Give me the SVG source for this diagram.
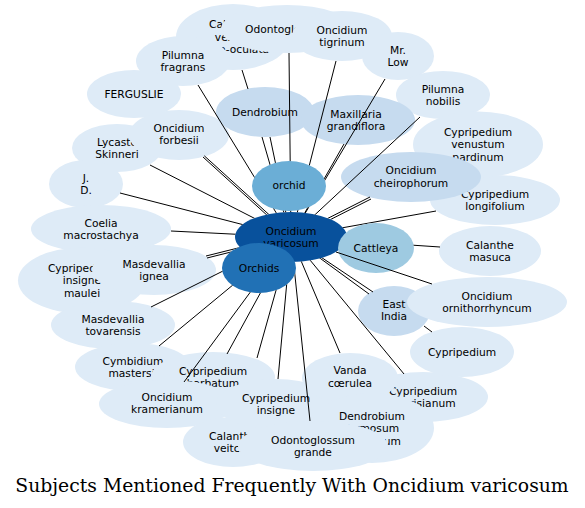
<svg xmlns="http://www.w3.org/2000/svg" width="585" height="508" viewBox="0 0 585 508">
<style>
.l{fill:#deebf7}.m{fill:#c6dbef}.c3{fill:#9ecae1}.c4{fill:#6baed6}.c5{fill:#2171b5}.c6{fill:#08519c}
text{font-family:"DejaVu Sans","Liberation Sans",sans-serif;font-size:10.7px;fill:#000;text-anchor:middle}
.e line{stroke:#000;stroke-width:1}
.title{font-family:"DejaVu Serif","Liberation Serif",serif;font-size:18.8px}
</style>
<defs>
<mask id="hub" maskUnits="userSpaceOnUse" x="0" y="0" width="585" height="508">
<rect width="585" height="508" fill="#fff"/>
<ellipse cx="291" cy="237" rx="56" ry="25" fill="#000"/>
<ellipse cx="289" cy="186" rx="37" ry="25" fill="#000"/>
<ellipse cx="259" cy="268" rx="37" ry="25" fill="#000"/>
<ellipse cx="376" cy="248" rx="38" ry="25" fill="#000"/>
</mask>
</defs>
<rect width="585" height="508" fill="#fff"/>
<g id="n_vestita"><ellipse class="l" cx="233" cy="37" rx="57" ry="33"/><text x="233"><tspan x="233" y="28.3">Calanthe</tspan><tspan x="233" y="40.8">vestita</tspan><tspan x="233" y="53.3">rubro-oculata</tspan></text></g>
<g id="n_odonto"><ellipse class="l" cx="287" cy="29" rx="66" ry="24"/><text x="287" y="32.8">Odontoglossum</text></g>
<g id="n_tigrinum"><ellipse class="l" cx="342" cy="36" rx="50" ry="25"/><text><tspan x="342" y="33.55">Oncidium</tspan><tspan x="342" y="46.05">tigrinum</tspan></text></g>
<g id="n_mrlow"><ellipse class="l" cx="398" cy="56" rx="36" ry="24"/><text><tspan x="398" y="53.55">Mr.</tspan><tspan x="398" y="66.05">Low</tspan></text></g>
<g id="n_pfragrans"><ellipse class="l" cx="183" cy="61" rx="47" ry="25"/><text><tspan x="183" y="58.55">Pilumna</tspan><tspan x="183" y="71.05">fragrans</tspan></text></g>
<g id="n_ferguslie"><ellipse class="l" cx="134" cy="94" rx="47" ry="24"/><text x="134" y="97.8">FERGUSLIE</text></g>
<g id="n_pnobilis"><ellipse class="l" cx="443" cy="95" rx="47" ry="24"/><text><tspan x="443" y="92.55">Pilumna</tspan><tspan x="443" y="105.05">nobilis</tspan></text></g>
<g id="n_lycaste"><ellipse class="l" cx="117" cy="148" rx="45" ry="24"/><text><tspan x="117" y="145.55">Lycaste</tspan><tspan x="117" y="158.05">Skinneri</tspan></text></g>
<g id="n_forbesii"><ellipse class="l" cx="179" cy="135" rx="50" ry="25"/><text><tspan x="179" y="131.55">Oncidium</tspan><tspan x="179" y="144.05">forbesii</tspan></text></g>
<g id="n_jd"><ellipse class="l" cx="86" cy="184" rx="37" ry="24"/><text><tspan x="86" y="181.55">J.</tspan><tspan x="86" y="194.05">D.</tspan></text></g>
<g id="n_coelia"><ellipse class="l" cx="101" cy="229" rx="70" ry="24"/><text><tspan x="101" y="226.55">Coelia</tspan><tspan x="101" y="239.05">macrostachya</tspan></text></g>
<g id="n_maulei"><ellipse class="l" cx="82" cy="280.5" rx="64" ry="33"/><text><tspan x="82" y="271.8">Cypripedium</tspan><tspan x="82" y="284.3">insigne</tspan><tspan x="82" y="296.8">maulei</tspan></text></g>
<g id="n_ignea"><ellipse class="l" cx="154" cy="270" rx="62" ry="25"/><text><tspan x="154" y="267.55">Masdevallia</tspan><tspan x="154" y="280.05">ignea</tspan></text></g>
<g id="n_tovarensis"><ellipse class="l" cx="113" cy="325" rx="62" ry="24"/><text><tspan x="113" y="322.55">Masdevallia</tspan><tspan x="113" y="335.05">tovarensis</tspan></text></g>
<g id="n_cymbidium"><ellipse class="l" cx="133" cy="367" rx="58" ry="24"/><text><tspan x="133" y="364.55">Cymbidium</tspan><tspan x="133" y="377.05">mastersii</tspan></text></g>
<g id="n_barbatum"><ellipse class="l" cx="213" cy="377" rx="62" ry="25"/><text><tspan x="213" y="374.55">Cypripedium</tspan><tspan x="213" y="387.05">barbatum</tspan></text></g>
<g id="n_kramerianum"><ellipse class="l" cx="167" cy="404" rx="68" ry="24"/><text><tspan x="167" y="400.55">Oncidium</tspan><tspan x="167" y="413.05">kramerianum</tspan></text></g>
<g id="n_veitchii"><ellipse class="l" cx="233" cy="442" rx="50" ry="25"/><text><tspan x="233" y="439.55">Calanthe</tspan><tspan x="233" y="452.05">veitchii</tspan></text></g>
<g id="n_insigne"><ellipse class="l" cx="276" cy="404" rx="60" ry="25"/><text><tspan x="276" y="401.55">Cypripedium</tspan><tspan x="276" y="414.05">insigne</tspan></text></g>
<g id="n_harrisianum"><ellipse class="l" cx="423" cy="397" rx="65" ry="25"/><text><tspan x="423" y="394.55">Cypripedium</tspan><tspan x="423" y="407.05">Harrisianum</tspan></text></g>
<g id="n_vanda"><ellipse class="l" cx="350" cy="378" rx="48" ry="25"/><text><tspan x="350" y="374.05">Vanda</tspan><tspan x="350" y="386.55">cœrulea</tspan></text></g>
<g id="n_formosum"><ellipse class="l" cx="372" cy="428" rx="62" ry="35"/><text><tspan x="372" y="419.8">Dendrobium</tspan><tspan x="372" y="432.3">formosum</tspan><tspan x="372" y="444.8">giganteum</tspan></text></g>
<g id="n_grande"><ellipse class="l" cx="313" cy="446" rx="75" ry="25"/><text><tspan x="313" y="443.55">Odontoglossum</tspan><tspan x="313" y="456.05">grande</tspan></text></g>
<g id="n_cypripedium"><ellipse class="l" cx="462" cy="352" rx="52" ry="25"/><text x="462" y="355.8">Cypripedium</text></g>
<g id="n_eastindia"><ellipse class="m" cx="394" cy="311" rx="36" ry="25"/><text><tspan x="394" y="307.55">East</tspan><tspan x="394" y="320.05">India</tspan></text></g>
<g id="n_ornith"><ellipse class="l" cx="487" cy="302" rx="80" ry="25"/><text><tspan x="487" y="299.55">Oncidium</tspan><tspan x="487" y="312.05">ornithorrhyncum</tspan></text></g>
<g id="n_masuca"><ellipse class="l" cx="490" cy="251" rx="51" ry="25"/><text><tspan x="490" y="248.55">Calanthe</tspan><tspan x="490" y="261.05">masuca</tspan></text></g>
<g id="n_longifolium"><ellipse class="l" cx="495" cy="200" rx="65" ry="25"/><text><tspan x="495" y="197.55">Cypripedium</tspan><tspan x="495" y="210.05">longifolium</tspan></text></g>
<g id="n_venustum"><ellipse class="l" cx="478" cy="144.5" rx="65" ry="33"/><text><tspan x="478" y="135.8">Cypripedium</tspan><tspan x="478" y="148.3">venustum</tspan><tspan x="478" y="160.8">pardinum</tspan></text></g>
<g id="n_cheirophorum"><ellipse class="m" cx="411" cy="177" rx="70" ry="25"/><text><tspan x="411" y="174.05">Oncidium</tspan><tspan x="411" y="186.55">cheirophorum</tspan></text></g>
<g id="n_dendrobium"><ellipse class="m" cx="265" cy="112" rx="49" ry="25"/><text x="265" y="115.8">Dendrobium</text></g>
<g id="n_maxillaria"><ellipse class="m" cx="358" cy="120" rx="57" ry="25"/><text><tspan x="356" y="117.55">Maxillaria</tspan><tspan x="356" y="130.05">grandiflora</tspan></text></g>
<g id="n_center"><ellipse class="c6" cx="291" cy="237" rx="56" ry="25"/><text><tspan x="291" y="234.55">Oncidium</tspan><tspan x="291" y="247.05">varicosum</tspan></text></g>
<g id="n_orchid"><ellipse class="c4" cx="289" cy="186" rx="37" ry="25"/><text x="289" y="188.8">orchid</text></g>
<g id="n_orchids"><ellipse class="c5" cx="259" cy="268" rx="37" ry="25"/><text x="259" y="271.8">Orchids</text></g>
<g id="n_cattleya"><ellipse class="c3" cx="376" cy="248" rx="38" ry="25"/><text x="376" y="251.8">Cattleya</text></g>
<g id="edges" class="e">
<g mask="url(#hub)">
<line x1="242" y1="70" x2="248" y2="89"/>
<line x1="262" y1="137" x2="291" y2="237"/>
<line x1="289" y1="53" x2="291" y2="237"/>
<line x1="336" y1="61" x2="291" y2="237"/>
<line x1="385" y1="79" x2="291" y2="237"/>
<line x1="344" y1="144" x2="291" y2="237"/>
<line x1="420" y1="117" x2="291" y2="237"/>
<line x1="370" y1="197" x2="291" y2="237"/>
<line x1="371" y1="199" x2="292" y2="239"/>
<line x1="436" y1="211" x2="291" y2="237"/>
<line x1="440" y1="247" x2="291" y2="237"/>
<line x1="369" y1="294" x2="291" y2="237"/>
<line x1="373" y1="292" x2="291" y2="237"/>
<line x1="424" y1="326" x2="432" y2="332"/>
<line x1="404" y1="374" x2="291" y2="237"/>
<line x1="340" y1="353" x2="291" y2="237"/>
<line x1="310" y1="421" x2="291" y2="237"/>
<line x1="278" y1="379" x2="291" y2="237"/>
<line x1="257" y1="358" x2="291" y2="237"/>
<line x1="227" y1="354" x2="291" y2="237"/>
<line x1="184" y1="382" x2="291" y2="237"/>
<line x1="159" y1="346" x2="291" y2="237"/>
<line x1="151" y1="307" x2="291" y2="237"/>
<line x1="207" y1="258" x2="291" y2="237"/>
<line x1="206" y1="256" x2="290" y2="235"/>
<line x1="171" y1="231" x2="291" y2="237"/>
<line x1="120" y1="193" x2="291" y2="237"/>
<line x1="150" y1="165" x2="291" y2="237"/>
<line x1="203" y1="157" x2="291" y2="237"/>
<line x1="204.3" y1="155.8" x2="292.3" y2="235.8"/>
<line x1="198" y1="85" x2="291" y2="237"/>
<line x1="270" y1="137" x2="291" y2="237"/>
</g>
<line x1="432" y1="284" x2="336" y2="252"/>
</g>
<text class="title" x="292" y="492">Subjects Mentioned Frequently With Oncidium varicosum</text>
</svg>
